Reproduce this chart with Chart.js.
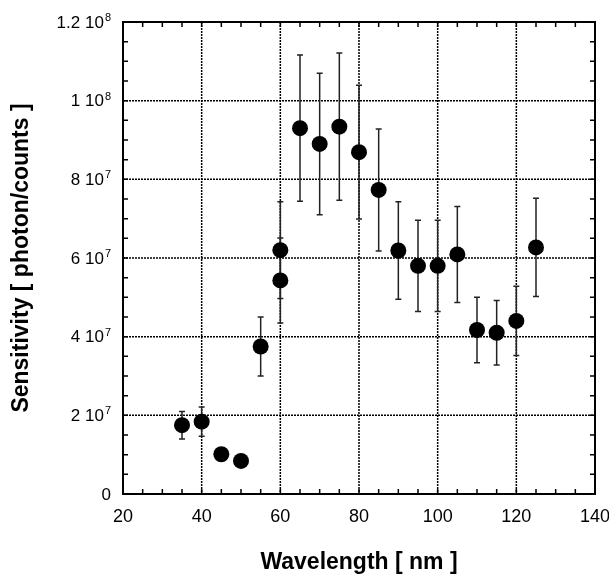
<!DOCTYPE html>
<html>
<head>
<meta charset="utf-8">
<script src="https://cdn.jsdelivr.net/npm/chart.js@4/dist/chart.umd.min.js"></script>
<style>
  body { margin: 0; background: #fff; }
  canvas { display: block; }
</style>
</head>
<body>
<canvas id="sens" width="609" height="574"></canvas>
<script>
// wavelength [nm], sensitivity and its error bar
var wavelength = [35, 40, 45, 50, 55, 60, 60, 65, 70, 75, 80, 85, 90, 95, 100, 105, 110, 115, 120, 125];
var sensitivity = [17.5e6, 18.4e6, 10.1e6, 8.4e6, 37.5e6, 62.0e6, 54.3e6, 93.0e6, 89.0e6, 93.4e6,
                   86.9e6, 77.3e6, 61.9e6, 58.0e6, 58.0e6, 60.9e6, 41.7e6, 41.0e6, 44.0e6, 62.7e6];
var sensErr = [3.5e6, 3.7e6, 1.5e6, 1.3e6, 7.5e6, 12.3e6, 10.8e6, 18.6e6, 18.0e6, 18.7e6,
               17.0e6, 15.5e6, 12.4e6, 11.6e6, 11.6e6, 12.2e6, 8.3e6, 8.2e6, 8.8e6, 12.5e6];

var xTicks = [20, 40, 60, 80, 100, 120, 140];
var yTicks = [0, 2e7, 4e7, 6e7, 8e7, 1e8, 1.2e8];
var yTickText = ['0', '2 10', '4 10', '6 10', '8 10', '1 10', '1.2 10'];
var yTickExp = ['', '7', '7', '7', '7', '8', '8'];

var FONT = '"Liberation Sans", Arial, Helvetica, sans-serif';

var points = wavelength.map(function (w, i) { return { x: w, y: sensitivity[i] }; });

// frame, dotted grid, inward ticks and error bars
var framePlugin = {
  id: 'frame',
  beforeDatasetsDraw: function (chart) {
    var ctx = chart.ctx, a = chart.chartArea;
    var xs = chart.scales.x, ys = chart.scales.y;
    ctx.save();
    // grid
    ctx.strokeStyle = '#000';
    ctx.lineWidth = 1.5;
    ctx.setLineDash([2, 1]);
    xTicks.forEach(function (v) {
      var px = xs.getPixelForValue(v);
      if (px <= a.left + 1 || px >= a.right - 1) return;
      ctx.beginPath(); ctx.moveTo(px, a.top); ctx.lineTo(px, a.bottom); ctx.stroke();
    });
    yTicks.forEach(function (v) {
      var py = ys.getPixelForValue(v);
      if (py <= a.top + 1 || py >= a.bottom - 1) return;
      ctx.beginPath(); ctx.moveTo(a.left, py); ctx.lineTo(a.right, py); ctx.stroke();
    });
    ctx.setLineDash([]);
    // minor ticks on all four sides
    ctx.lineWidth = 1.5;
    var t = 5;
    for (var v = 20; v <= 140; v += 5) {
      var px = xs.getPixelForValue(v);
      ctx.beginPath();
      ctx.moveTo(px, a.bottom); ctx.lineTo(px, a.bottom - t);
      ctx.moveTo(px, a.top); ctx.lineTo(px, a.top + t);
      ctx.stroke();
    }
    for (var w = 0; w <= 1.2e8; w += 5e6) {
      var py = ys.getPixelForValue(w);
      ctx.beginPath();
      ctx.moveTo(a.left, py); ctx.lineTo(a.left + t, py);
      ctx.moveTo(a.right, py); ctx.lineTo(a.right - t, py);
      ctx.stroke();
    }
    // frame
    ctx.lineWidth = 2;
    ctx.strokeRect(a.left, a.top, a.right - a.left, a.bottom - a.top);
    // error bars
    ctx.strokeStyle = '#222';
    ctx.lineWidth = 1.5;
    wavelength.forEach(function (wl, i) {
      var px = xs.getPixelForValue(wl);
      var top = ys.getPixelForValue(sensitivity[i] + sensErr[i]);
      var bot = ys.getPixelForValue(sensitivity[i] - sensErr[i]);
      ctx.beginPath();
      ctx.moveTo(px, top); ctx.lineTo(px, bot);
      ctx.moveTo(px - 3, top); ctx.lineTo(px + 3, top);
      ctx.moveTo(px - 3, bot); ctx.lineTo(px + 3, bot);
      ctx.stroke();
    });
    ctx.restore();
  },
  afterDraw: function (chart) {
    // y tick labels with superscript exponents
    var ctx = chart.ctx, ys = chart.scales.y;
    var right = 111;
    ctx.save();
    ctx.fillStyle = '#000';
    ctx.textBaseline = 'middle';
    yTicks.forEach(function (v, i) {
      var py = ys.getPixelForValue(v);
      var x = right;
      ctx.textAlign = 'right';
      if (yTickExp[i]) {
        ctx.font = '11px ' + FONT;
        ctx.fillText(yTickExp[i], x, py - 4);
        x -= ctx.measureText(yTickExp[i]).width + 1;
      }
      ctx.font = '17px ' + FONT;
      ctx.fillText(yTickText[i], x, py + 1);
    });
    ctx.restore();
  }
};

var chart = new Chart(document.getElementById('sens'), {
  type: 'scatter',
  data: {
    datasets: [{
      data: points,
      backgroundColor: '#000',
      borderColor: '#000',
      borderWidth: 0,
      pointRadius: 8,
      pointHoverRadius: 8
    }]
  },
  options: {
    responsive: false,
    animation: false,
    layout: { padding: { top: 22, right: 14, left: 0, bottom: 0 } },
    plugins: { legend: { display: false }, tooltip: { enabled: false } },
    scales: {
      x: {
        type: 'linear',
        min: 20, max: 140,
        grid: { display: false, drawTicks: false },
        border: { display: false },
        ticks: {
          stepSize: 20,
          color: '#000',
          padding: 12,
          font: { family: FONT, size: 18 }
        },
        title: {
          display: true,
          text: 'Wavelength [ nm ]',
          color: '#000',
          padding: 0,
          font: { family: FONT, size: 23, weight: 'bold', lineHeight: 1 }
        },
        afterFit: function (s) { s.height = 80; s.paddingLeft = 0; s.paddingRight = 0; }
      },
      y: {
        type: 'linear',
        min: 0, max: 1.2e8,
        grid: { display: false, drawTicks: false },
        border: { display: false },
        ticks: { display: false, stepSize: 2e7 },
        title: {
          display: true,
          text: 'Sensitivity [ photon/counts ]',
          color: '#000',
          padding: { top: 10, bottom: 0 },
          font: { family: FONT, size: 23, weight: 'bold', lineHeight: 1 }
        },
        afterFit: function (s) { s.width = 123; s.paddingTop = 0; s.paddingBottom = 0; }
      }
    }
  },
  plugins: [framePlugin]
});
</script>
</body>
</html>
